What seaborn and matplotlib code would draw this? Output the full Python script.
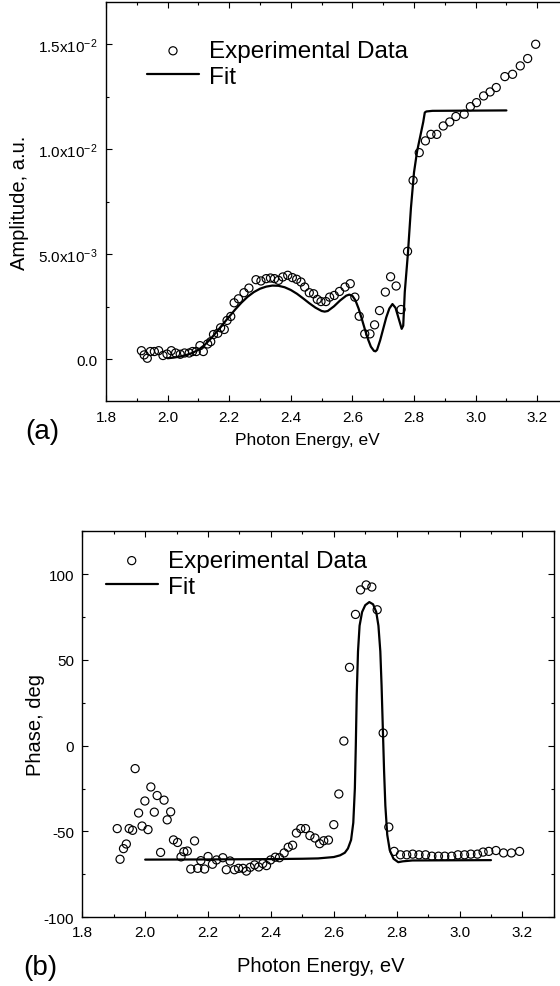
import numpy as np
import pandas as pd
import matplotlib
matplotlib.use("Agg")
import matplotlib.pyplot as plt
import seaborn as sns
from matplotlib.ticker import MultipleLocator, FuncFormatter

# ---- (a) amplitude, experimental points (amplitude in units of 1e-3)
amp_energy = [1.915, 1.924, 1.934, 1.944, 1.957, 1.971, 1.985, 1.998, 2.012, 2.026,
              2.041, 2.055, 2.070, 2.081, 2.093, 2.105, 2.116, 2.130, 2.140, 2.149,
              2.163, 2.172, 2.184, 2.193, 2.205, 2.216, 2.230, 2.248, 2.264, 2.287,
              2.303, 2.320, 2.334, 2.347, 2.360, 2.374, 2.390, 2.405, 2.419, 2.433,
              2.445, 2.460, 2.474, 2.486, 2.498, 2.514, 2.526, 2.541, 2.558, 2.576,
              2.593, 2.608, 2.622, 2.640, 2.657, 2.672, 2.688, 2.707, 2.724, 2.742,
              2.758, 2.779, 2.797, 2.817, 2.837, 2.855, 2.874, 2.895, 2.916, 2.936,
              2.963, 2.983, 3.003, 3.026, 3.047, 3.067, 3.095, 3.120, 3.145, 3.169,
              3.195]
amp_exp = [0.41, 0.21, 0.05, 0.37, 0.37, 0.41, 0.18, 0.25, 0.41, 0.30,
           0.24, 0.30, 0.30, 0.37, 0.37, 0.65, 0.37, 0.73, 0.84, 1.18,
           1.24, 1.50, 1.42, 1.85, 2.04, 2.69, 2.88, 3.17, 3.39, 3.79,
           3.73, 3.84, 3.87, 3.84, 3.76, 3.92, 4.00, 3.89, 3.81, 3.68,
           3.44, 3.17, 3.12, 2.85, 2.75, 2.75, 2.96, 3.04, 3.23, 3.44,
           3.60, 2.96, 2.05, 1.21, 1.21, 1.64, 2.32, 3.20, 3.93, 3.49,
           2.37, 5.14, 8.52, 9.84, 10.40, 10.71, 10.71, 11.11, 11.30, 11.56,
           11.67, 12.03, 12.22, 12.54, 12.73, 12.94, 13.46, 13.57, 13.97, 14.32,
           15.00]

# ---- (a) amplitude, fit curve (1e-3)
amp_fit_energy = [2.00, 2.02, 2.04, 2.06, 2.08, 2.10, 2.12, 2.14, 2.16, 2.18,
                  2.20, 2.22, 2.24, 2.26, 2.28, 2.30, 2.32, 2.34, 2.36, 2.38,
                  2.40, 2.42, 2.44, 2.46, 2.48, 2.50, 2.51, 2.52, 2.54, 2.56,
                  2.58, 2.59, 2.60, 2.61, 2.62, 2.63, 2.64, 2.65, 2.66, 2.67,
                  2.675, 2.68, 2.69, 2.70, 2.71, 2.72, 2.73, 2.74, 2.75, 2.76,
                  2.765, 2.77, 2.78, 2.79, 2.80, 2.81, 2.82, 2.83, 2.835, 2.84,
                  2.86, 3.10]
amp_fit = [0.05, 0.08, 0.13, 0.20, 0.30, 0.45, 0.68, 0.98, 1.32, 1.68,
           2.03, 2.38, 2.70, 2.98, 3.20, 3.36, 3.46, 3.51, 3.50, 3.43,
           3.30, 3.12, 2.90, 2.67, 2.46, 2.30, 2.27, 2.30, 2.52, 2.80,
           3.03, 3.08, 3.02, 2.80, 2.42, 1.95, 1.45, 0.98, 0.60, 0.40,
           0.38, 0.45, 0.90, 1.45, 2.00, 2.42, 2.63, 2.45, 1.95, 1.45,
           1.60, 3.20, 5.00, 7.20, 8.90, 9.90, 10.60, 11.30, 11.75, 11.80,
           11.83, 11.85]

# ---- (b) phase, experimental points (deg)
ph_energy = [1.911, 1.920, 1.931, 1.940, 1.949, 1.960, 1.968, 1.979, 1.990, 1.999,
             2.009, 2.018, 2.029, 2.038, 2.049, 2.060, 2.070, 2.081, 2.090, 2.103,
             2.114, 2.123, 2.134, 2.145, 2.157, 2.167, 2.177, 2.189, 2.200, 2.214,
             2.227, 2.247, 2.258, 2.270, 2.284, 2.297, 2.311, 2.322, 2.334, 2.348,
             2.361, 2.374, 2.386, 2.399, 2.414, 2.427, 2.442, 2.455, 2.469, 2.481,
             2.495, 2.510, 2.524, 2.540, 2.555, 2.568, 2.583, 2.600, 2.616, 2.632,
             2.650, 2.669, 2.685, 2.703, 2.721, 2.738, 2.757, 2.775, 2.792, 2.812,
             2.832, 2.851, 2.871, 2.892, 2.912, 2.933, 2.953, 2.975, 2.995, 3.016,
             3.036, 3.057, 3.075, 3.093, 3.116, 3.140, 3.165, 3.191]
ph_exp = [-48.4, -66.3, -60.1, -57.4, -48.4, -49.4, -13.4, -39.3, -46.9, -32.3,
          -49.0, -24.1, -38.8, -29.1, -62.3, -31.8, -43.3, -38.6, -55.0, -56.5,
          -64.9, -61.9, -61.5, -72.0, -55.6, -71.6, -67.1, -72.0, -64.7, -69.2,
          -66.7, -65.4, -72.4, -67.3, -72.4, -71.6, -71.6, -73.2, -71.0, -69.6,
          -70.8, -68.8, -70.0, -66.7, -65.1, -65.4, -62.6, -59.3, -58.1, -51.0,
          -48.4, -48.4, -52.5, -53.9, -57.2, -55.5, -55.1, -46.1, -28.2, 2.7,
          45.7, 76.6, 90.9, 93.8, 92.6, 79.3, 7.4, -47.5, -61.7, -63.7,
          -63.7, -63.3, -63.7, -63.7, -64.5, -64.5, -64.5, -64.5, -63.7, -63.7,
          -63.3, -63.3, -62.1, -61.7, -61.2, -62.6, -62.6, -61.7]

# ---- (b) phase, fit curve (deg)
ph_fit_energy = [2.00, 2.20, 2.40, 2.50, 2.55, 2.60, 2.62, 2.635, 2.645, 2.655,
                 2.662, 2.667, 2.670, 2.673, 2.677, 2.682, 2.690, 2.700, 2.713, 2.725,
                 2.735, 2.742, 2.748, 2.752, 2.756, 2.760, 2.764, 2.770, 2.778, 2.790,
                 2.805, 2.820, 2.850, 3.10]
ph_fit = [-66.5, -66.4, -66.2, -66.0, -65.8, -65.0, -64.0, -62.5, -60.0, -55.0,
          -45.0, -25.0, 0.0, 30.0, 55.0, 70.0, 78.0, 82.0, 83.8, 82.5,
          78.0, 70.0, 55.0, 35.0, 10.0, -15.0, -35.0, -52.0, -61.0, -66.0,
          -68.0, -67.5, -67.0, -66.8]

sns.set_style("ticks")
plt.rcParams['font.family'] = ['Liberation Sans', 'DejaVu Sans']
plt.rcParams['mathtext.fontset'] = 'custom'
plt.rcParams['mathtext.rm'] = 'Liberation Sans'
plt.rcParams['mathtext.default'] = 'regular'
plt.rcParams['axes.unicode_minus'] = False
# seaborn greys the text; the original is plain black
for key in ['text.color', 'axes.labelcolor', 'xtick.color', 'ytick.color']:
    plt.rcParams[key] = 'black'

fig = plt.figure(figsize=(5.6, 9.87), dpi=100)
ax_a = fig.add_axes([0.1893, 0.5924, 0.825, 0.4043])
ax_b = fig.add_axes([0.147, 0.0699, 0.842, 0.3906])


def amp_label(v, pos):
    # Origin style labels: 1.5x10^-2 etc.
    if abs(v) < 1e-12:
        return "0.0"
    exp = int(np.floor(np.log10(abs(v))))
    mant = v / 10 ** exp
    return r"%.1fx10$^{%d}$" % (mant, exp)


def draw_panel(ax, xe, ye, xf, yf):
    sns.scatterplot(x=xe, y=ye, ax=ax, marker='o', s=34, label='Experimental Data',
                    zorder=3)
    coll = ax.collections[-1]
    coll.set_facecolor('none')
    coll.set_edgecolor('black')
    coll.set_linewidth(0.85)
    sns.lineplot(x=xf, y=yf, ax=ax, color='black', linewidth=1.6, label='Fit',
                 estimator=None, sort=False, zorder=2)
    ax.set_xlim(1.8, 3.3)
    ax.xaxis.set_major_locator(MultipleLocator(0.2))
    ax.xaxis.set_minor_locator(MultipleLocator(0.1))
    ax.tick_params(which='both', direction='in', top=True, right=True,
                   labelsize=11, width=0.8, color='black', labelcolor='black')
    ax.tick_params(which='major', length=4.5, pad=6)
    ax.tick_params(which='minor', length=2.3)
    for sp in ax.spines.values():
        sp.set_linewidth(1.0)
        sp.set_color('black')


# panel (a)
amp_exp_au = np.array(amp_exp) * 1e-3
amp_fit_au = np.array(amp_fit) * 1e-3
draw_panel(ax_a, amp_energy, amp_exp_au, amp_fit_energy, amp_fit_au)
ax_a.set_ylim(-0.002, 0.017)
ax_a.yaxis.set_major_locator(MultipleLocator(0.005))
ax_a.yaxis.set_minor_locator(MultipleLocator(0.0025))
ax_a.yaxis.set_major_formatter(FuncFormatter(amp_label))
ax_a.set_xlabel('Photon Energy, eV', fontsize=12.5)
ax_a.set_ylabel('Amplitude, a.u.', fontsize=14.5)
ax_a.xaxis.set_label_coords(0.435, -0.096)
ax_a.xaxis.label.set_va('center')
ax_a.yaxis.set_label_coords(-0.187, 0.5)
ax_a.yaxis.label.set_va('center')
ax_a.legend(loc='upper left', bbox_to_anchor=(0.0887, 0.905), frameon=False,
            fontsize=17.5, borderpad=0, borderaxespad=0, labelspacing=0.15,
            handlelength=2.14, handletextpad=0.41)

# panel (b)
draw_panel(ax_b, ph_energy, ph_exp, ph_fit_energy, ph_fit)
ax_b.set_ylim(-100, 125)
ax_b.yaxis.set_major_locator(MultipleLocator(50))
ax_b.yaxis.set_minor_locator(MultipleLocator(25))
ax_b.set_xlabel('Photon Energy, eV', fontsize=14.5)
ax_b.set_ylabel('Phase, deg', fontsize=14.5)
ax_b.xaxis.set_label_coords(0.506, -0.1245)
ax_b.xaxis.label.set_va('center')
ax_b.yaxis.set_label_coords(-0.100, 0.5)
ax_b.yaxis.label.set_va('center')
ax_b.legend(loc='upper left', bbox_to_anchor=(0.0496, 0.952), frameon=False,
            fontsize=17.5, borderpad=0, borderaxespad=0, labelspacing=0.15,
            handlelength=2.14, handletextpad=0.41)

fig.text(25 / 560, 1 - 432 / 987, '(a)', fontsize=20, ha='left', va='center')
fig.text(23 / 560, 1 - 968 / 987, '(b)', fontsize=20, ha='left', va='center')

fig.savefig('out.png', dpi=100)
